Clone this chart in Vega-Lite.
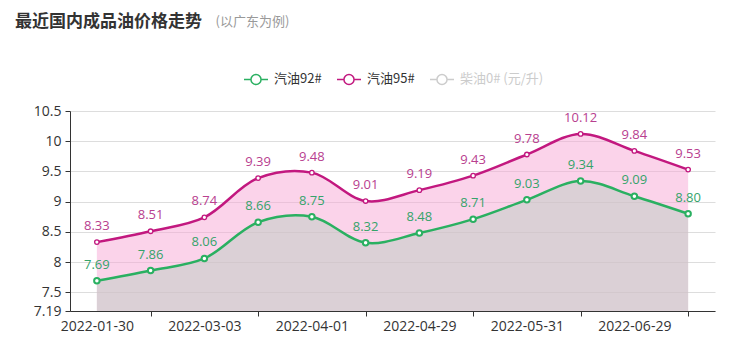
{
  "$schema": "https://vega.github.io/schema/vega-lite/v6.json",
  "autosize": "none",
  "width": 645,
  "height": 200,
  "padding": {"left": 70, "top": 111, "right": 37, "bottom": 44},
  "background": "white",
  "config": {
    "font": "Open Sans, Noto Sans CJK SC",
    "view": {"stroke": null}
  },
  "title": {
    "text": "最近国内成品油价格走势",
    "anchor": "start",
    "frame": "group",
    "dx": -55,
    "offset": -16,
    "fontSize": 17,
    "fontWeight": "bold",
    "color": "#333333",
    "font": "Noto Sans CJK SC"
  },
  "data": {
    "values": [
      {"date": "2022-01-30", "fuel": "汽油92#", "price": 7.69},
      {"date": "2022-02-17", "fuel": "汽油92#", "price": 7.86},
      {"date": "2022-03-03", "fuel": "汽油92#", "price": 8.06},
      {"date": "2022-03-18", "fuel": "汽油92#", "price": 8.66},
      {"date": "2022-04-01", "fuel": "汽油92#", "price": 8.75},
      {"date": "2022-04-15", "fuel": "汽油92#", "price": 8.32},
      {"date": "2022-04-29", "fuel": "汽油92#", "price": 8.48},
      {"date": "2022-05-17", "fuel": "汽油92#", "price": 8.71},
      {"date": "2022-05-31", "fuel": "汽油92#", "price": 9.03},
      {"date": "2022-06-14", "fuel": "汽油92#", "price": 9.34},
      {"date": "2022-06-29", "fuel": "汽油92#", "price": 9.09},
      {"date": "2022-07-13", "fuel": "汽油92#", "price": 8.80},
      {"date": "2022-01-30", "fuel": "汽油95#", "price": 8.33},
      {"date": "2022-02-17", "fuel": "汽油95#", "price": 8.51},
      {"date": "2022-03-03", "fuel": "汽油95#", "price": 8.74},
      {"date": "2022-03-18", "fuel": "汽油95#", "price": 9.39},
      {"date": "2022-04-01", "fuel": "汽油95#", "price": 9.48},
      {"date": "2022-04-15", "fuel": "汽油95#", "price": 9.01},
      {"date": "2022-04-29", "fuel": "汽油95#", "price": 9.19},
      {"date": "2022-05-17", "fuel": "汽油95#", "price": 9.43},
      {"date": "2022-05-31", "fuel": "汽油95#", "price": 9.78},
      {"date": "2022-06-14", "fuel": "汽油95#", "price": 10.12},
      {"date": "2022-06-29", "fuel": "汽油95#", "price": 9.84},
      {"date": "2022-07-13", "fuel": "汽油95#", "price": 9.53}
    ]
  },
  "encoding": {
    "x": {
      "field": "date",
      "type": "ordinal",
      "scale": {"type": "point", "padding": 0.5},
      "axis": {
        "title": null,
        "values": ["2022-01-30", "2022-03-03", "2022-04-01", "2022-04-29", "2022-05-31", "2022-06-29"],
        "labelAngle": 0,
        "tickOffset": 53.75,
        "labelOffset": -53.75,
        "grid": false,
        "domainColor": "#333333",
        "tickColor": "#333333",
        "tickSize": 5,
        "labelFontSize": 14,
        "labelColor": "#333333",
        "labelPadding": 3
      }
    },
    "y": {
      "field": "price",
      "type": "quantitative",
      "scale": {"domain": [7.19, 10.5], "nice": false, "zero": false},
      "axis": {
        "title": "(以广东为例)",
        "titleAngle": 0,
        "titleX": 145,
        "titleY": -90,
        "titleAlign": "left",
        "titleBaseline": "middle",
        "titleFontSize": 13,
        "titleFontWeight": "normal",
        "titleColor": "#999999",
        "titleFont": "Noto Sans CJK SC",
        "values": [7.19, 7.5, 8, 8.5, 9, 9.5, 10, 10.5],
        "format": ".4~g",
        "grid": true,
        "gridColor": "#dddddd",
        "domainColor": "#333333",
        "tickColor": "#333333",
        "tickSize": 5,
        "labelFontSize": 14,
        "labelColor": "#333333",
        "labelPadding": 4
      }
    }
  },
  "layer": [
    {
      "transform": [{"filter": "datum.fuel === '汽油95#'"}],
      "mark": {"type": "area", "interpolate": "catmull-rom", "color": "#f7a8d5", "opacity": 0.5},
      "encoding": {"y2": {"datum": 7.19}}
    },
    {
      "transform": [{"filter": "datum.fuel === '汽油92#'"}],
      "mark": {"type": "area", "interpolate": "catmull-rom", "color": "#bbcdc2", "opacity": 0.5},
      "encoding": {"y2": {"datum": 7.19}}
    },
    {
      "mark": {"type": "line", "interpolate": "catmull-rom", "strokeWidth": 2.5},
      "encoding": {
        "color": {
          "field": "fuel",
          "type": "nominal",
          "scale": {"domain": ["汽油92#", "汽油95#", "柴油0# (元/升)"], "range": ["#2ab061", "#c2187f", "#cccccc"]},
          "legend": {
            "title": null,
            "orient": "none",
            "direction": "horizontal",
            "legendX": 173,
            "legendY": -45,
            "symbolType": "M-1,0H-0.42M0.42,0H1M0.42,0A0.42,0.42 0 1,1 -0.42,0A0.42,0.42 0 1,1 0.42,0Z",
            "symbolSize": 576,
            "symbolFillColor": "white",
            "symbolStrokeWidth": 1.5,
            "labelFontSize": 13,
            "labelColor": "#333333",
            "labelFont": "Noto Sans CJK SC",
            "labelOffset": 5,
            "columnPadding": 12,
            "encode": {
              "labels": {"update": {"fill": {"signal": "datum.value === '柴油0# (元/升)' ? '#cccccc' : '#333333'"}}}
            }
          }
        }
      }
    },
    {
      "mark": {"type": "point", "filled": true, "fill": "white", "opacity": 1},
      "encoding": {
        "stroke": {"field": "fuel", "type": "nominal", "scale": {"domain": ["汽油92#", "汽油95#", "柴油0# (元/升)"], "range": ["#2ab061", "#c2187f", "#cccccc"]}, "legend": null},
        "size": {"condition": {"test": "datum.fuel === '汽油92#'", "value": 30}, "value": 20},
        "strokeWidth": {"condition": {"test": "datum.fuel === '汽油92#'", "value": 2}, "value": 1.3}
      }
    },
    {
      "mark": {"type": "text", "dy": -16, "fontSize": 13},
      "encoding": {
        "text": {"field": "price", "type": "quantitative", "format": ".2f"},
        "color": {"condition": {"test": "datum.fuel === '汽油92#'", "value": "#35a36a"}, "value": "#b8408f"}
      }
    }
  ]
}
